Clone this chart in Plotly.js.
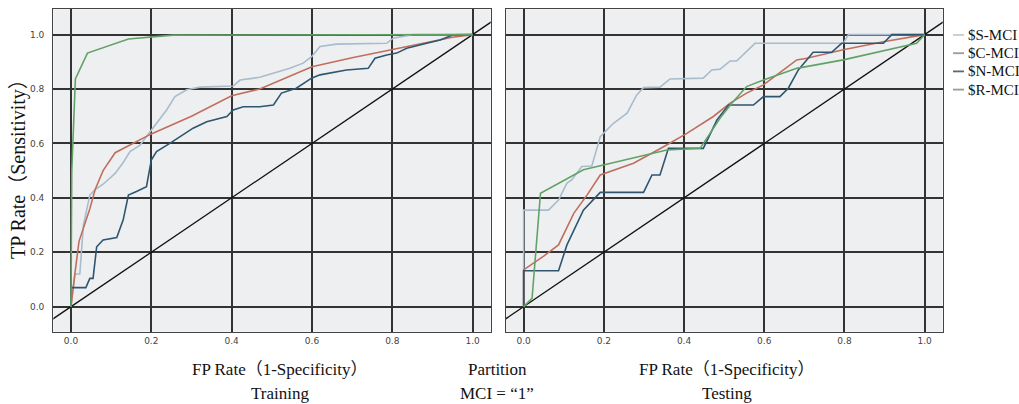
<!DOCTYPE html>
<html><head><meta charset="utf-8">
<script src="https://cdn.plot.ly/plotly-3.0.1.min.js"></script>
<style>html,body{margin:0;padding:0;background:#fff}#chart{width:1019px;height:404px}</style>
</head><body><div id="chart"></div>
<script>
// ---- data ----
const seriesNames = ["$S-MCI", "$C-MCI", "$N-MCI", "$R-MCI"];
const tickVals = [0, 0.2, 0.4, 0.6, 0.8, 1.0];
const tickText = ["0.0", "0.2", "0.4", "0.6", "0.8", "1.0"];
const refLine = [-0.2, 1.2];

// Training
const trainS_fpr = [0,0.005,0.01,0.022,0.031,0.047,0.06,0.08,0.095,0.11,0.13,0.147,0.172,0.188,0.205,0.238,0.259,0.288,0.321,0.404,0.421,0.47,0.545,0.578,0.599,0.62,0.661,0.786,0.802,0.827,0.85,1];
const trainS_tpr = [0,0.06,0.12,0.12,0.30,0.41,0.43,0.45,0.47,0.49,0.53,0.57,0.594,0.625,0.662,0.723,0.772,0.797,0.807,0.811,0.833,0.843,0.876,0.895,0.919,0.956,0.965,0.968,0.987,0.995,1.0,1];
const trainC_fpr = [0,0.005,0.01,0.02,0.047,0.06,0.08,0.11,0.2,0.3,0.4,0.47,0.6,0.7,0.8,0.9,0.95,1];
const trainC_tpr = [0,0.07,0.124,0.24,0.36,0.43,0.50,0.566,0.635,0.70,0.775,0.80,0.882,0.915,0.944,0.975,0.99,1];
const trainN_fpr = [0,0,0.037,0.047,0.055,0.064,0.08,0.114,0.13,0.143,0.163,0.188,0.2,0.213,0.246,0.271,0.304,0.338,0.388,0.404,0.429,0.47,0.504,0.524,0.561,0.599,0.62,0.686,0.74,0.757,0.786,0.811,0.836,0.886,0.919,0.952,1];
const trainN_tpr = [0,0.07,0.07,0.104,0.104,0.22,0.245,0.254,0.319,0.41,0.423,0.441,0.539,0.57,0.60,0.625,0.656,0.68,0.699,0.723,0.735,0.735,0.741,0.785,0.803,0.84,0.852,0.87,0.876,0.913,0.925,0.932,0.95,0.968,0.98,0.999,1];
const trainR_fpr = [0,0.002,0.011,0.041,0.143,0.254,1];
const trainR_tpr = [0,0.5,0.837,0.932,0.984,0.998,1];

// Testing
const testS_fpr = [0,0,0.062,0.087,0.108,0.12,0.145,0.17,0.191,0.224,0.258,0.282,0.299,0.34,0.365,0.448,0.469,0.49,0.515,0.531,0.577,0.797,0.81,1];
const testS_tpr = [0,0.355,0.355,0.392,0.454,0.466,0.515,0.517,0.625,0.674,0.711,0.778,0.805,0.807,0.837,0.84,0.87,0.873,0.903,0.903,0.968,0.968,1.0,1];
const testC_fpr = [0,0,0.05,0.087,0.125,0.158,0.191,0.274,0.349,0.407,0.473,0.515,0.556,0.598,0.648,0.681,0.706,0.797,0.897,1];
const testC_tpr = [0,0.135,0.186,0.227,0.343,0.41,0.484,0.527,0.588,0.637,0.699,0.748,0.785,0.815,0.87,0.907,0.913,0.944,0.974,1];
const testN_fpr = [0,0,0.087,0.108,0.149,0.191,0.299,0.32,0.34,0.361,0.448,0.482,0.511,0.573,0.598,0.639,0.66,0.685,0.722,0.768,0.793,0.897,0.918,1];
const testN_tpr = [0,0.132,0.132,0.227,0.355,0.42,0.42,0.484,0.484,0.582,0.582,0.686,0.741,0.741,0.772,0.772,0.803,0.87,0.935,0.935,0.968,0.968,1.0,1];
const testR_fpr = [0,0.021,0.042,0.149,0.357,0.44,0.49,0.519,0.556,0.598,0.681,0.797,0.98,1];
const testR_tpr = [0,0.031,0.417,0.503,0.576,0.582,0.693,0.748,0.809,0.833,0.876,0.907,0.968,1];

// ---- styling ----
const colors = ["#a9bccd", "#c06f5e", "#2f5670", "#62a266"];
const legendColors = ["#c8cbce", "#9c9a9a", "#5d6a73", "#8aa58a"];
const W = 1019, H = 404;
const px = x => x / W, py = y => 1 - y / H;

const train = [[trainS_fpr,trainS_tpr],[trainC_fpr,trainC_tpr],[trainN_fpr,trainN_tpr],[trainR_fpr,trainR_tpr]];
const test = [[testS_fpr,testS_tpr],[testC_fpr,testC_tpr],[testN_fpr,testN_tpr],[testR_fpr,testR_tpr]];

const traces = [];
[[train,"x","y"],[test,"x2","y2"]].forEach(([set,xa,ya]) => {
  traces.push({x: refLine, y: refLine, xaxis: xa, yaxis: ya, mode: "lines",
    line: {color: "#111", width: 1.3}, showlegend: false, hoverinfo: "skip"});
  set.forEach((s,i) => traces.push({x: s[0], y: s[1], xaxis: xa, yaxis: ya, mode: "lines",
    name: seriesNames[i], line: {color: colors[i], width: 1.6}, showlegend: false}));
});

const axisCommon = {
  tickvals: tickVals, ticktext: tickText, showgrid: true, gridcolor: "#333", gridwidth: 2,
  zeroline: false, showline: true, linecolor: "#444", linewidth: 1.2, mirror: true,
  ticks: "", tickfont: {family: "DejaVu Sans", size: 9, color: "#444"}, fixedrange: true
};
const yDom = [py(331.7), py(9.3)];
const xR = [-0.044, 1.045], yR = [-0.092, 1.093];

const serif = "Liberation Serif, Times New Roman, Noto Sans CJK SC, serif";
const ann = (text, x, y, extra) => Object.assign({text, x: px(x), y: py(y), xref: "paper", yref: "paper",
  showarrow: false, xanchor: "center", yanchor: "middle", font: {family: serif, size: 17, color: "#111"}}, extra || {});

const annotations = [
  ann("TP Rate（Sensitivity）", 18, 164, {textangle: -90, font: {family: serif, size: 20, color: "#111"}}),
  ann("FP Rate（1-Specificity）", 280, 369),
  ann("Training", 280, 393),
  ann("Partition", 497, 369),
  ann("MCI = “1”", 497, 393),
  ann("FP Rate（1-Specificity）", 727, 369),
  ann("Testing", 727, 393)
];
const shapes = [];
seriesNames.forEach((n,i) => {
  const yy = 35 + i * 18.2;
  shapes.push({type: "line", xref: "paper", yref: "paper", x0: px(953), x1: px(964), y0: py(yy), y1: py(yy),
    line: {color: legendColors[i], width: 1.8}});
  annotations.push({text: n, x: px(966), y: py(yy), xref: "paper", yref: "paper", showarrow: false,
    xanchor: "left", yanchor: "middle", font: {family: serif, size: 15, color: "#111"}});
});

const layout = {
  width: W, height: H, margin: {l: 0, r: 0, t: 0, b: 0},
  paper_bgcolor: "#fff", plot_bgcolor: "#eeeff1", showlegend: false,
  xaxis: Object.assign({}, axisCommon, {domain: [px(53.3), px(490.7)], range: xR, anchor: "y"}),
  yaxis: Object.assign({}, axisCommon, {domain: yDom, range: yR, anchor: "x", ticklabelstandoff: 6}),
  xaxis2: Object.assign({}, axisCommon, {domain: [px(506), px(942.7)], range: xR, anchor: "y2"}),
  yaxis2: Object.assign({}, axisCommon, {domain: yDom, range: yR, anchor: "x2", showticklabels: false}),
  annotations, shapes
};
Plotly.newPlot("chart", traces, layout, {displayModeBar: false, staticPlot: true});
</script></body></html>
